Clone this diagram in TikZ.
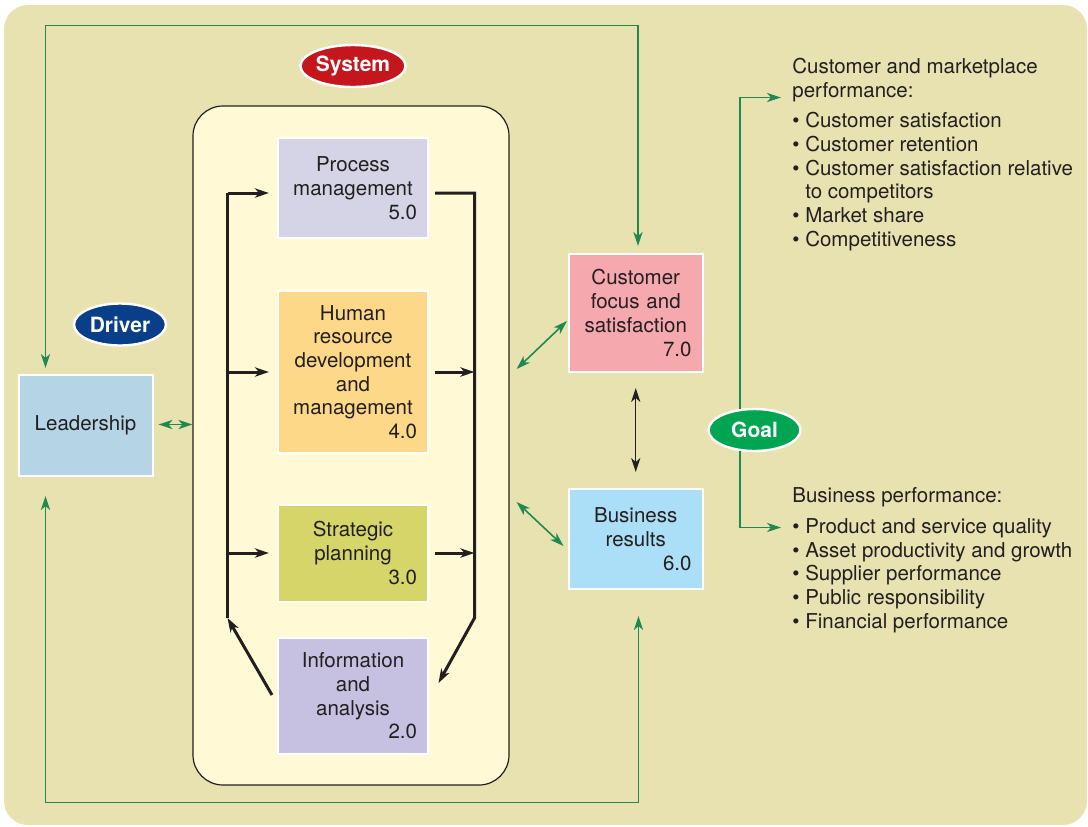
\documentclass[tikz,border=0pt]{standalone}
\usepackage{fontspec}
\setmainfont{TeX Gyre Heros}
\usetikzlibrary{arrows.meta,shapes.geometric,calc}

\definecolor{txt}{HTML}{231F20}
\definecolor{bgtan}{HTML}{E8E2B1}
\definecolor{cream}{HTML}{FFF9D5}
\definecolor{procc}{HTML}{D5D3E6}
\definecolor{hrc}{HTML}{FDD888}
\definecolor{stratc}{HTML}{D6D56A}
\definecolor{infoc}{HTML}{C6C1E0}
\definecolor{leadc}{HTML}{B5D5E6}
\definecolor{custc}{HTML}{F5A9AE}
\definecolor{busc}{HTML}{AADFF7}
\definecolor{sysred}{HTML}{C4161C}
\definecolor{drvblue}{HTML}{083F88}
\definecolor{goalgrn}{HTML}{00A551}
\definecolor{grn}{HTML}{1E8A50}

\begin{document}
\begin{tikzpicture}[x=0.5pt, y=-0.5pt, font=\fontsize{10.25}{11.85}\selectfont,
  >={Stealth[length=7pt, width=4.6pt, inset=2pt]},
  stage/.style={draw=white, line width=1pt, text=txt, inner sep=0pt, align=center},
  badge/.style={ellipse, draw=white, line width=1.2pt, text=white, inner sep=0pt,
    minimum width=46pt, minimum height=21pt, font=\fontsize{10.5}{12}\selectfont\bfseries},
  note/.style={anchor=north west, align=left, inner sep=0pt, text=txt},
  kline/.style={draw=txt, line width=1.5pt, line join=miter},
  gline/.style={draw=grn, line width=0.8pt, line join=miter}]

  \useasboundingbox (0,0) rectangle (1088,826);
  \fill[white] (0,0) rectangle (1088,826);
  \fill[bgtan, rounded corners=12pt] (4,5) rectangle (1087,825);

  % System frame
  \node[draw=txt, fill=cream, line width=0.6pt, rounded corners=15pt, inner sep=0pt,
    minimum width=158pt, minimum height=339.5pt] (sys) at (351,445.5) {};

  % Boxes
  \node[stage, fill=procc, minimum width=75pt, minimum height=50pt, text width=64pt] (proc) at (353,188)
    {Process\\management\\\hspace*{\fill}5.0};
  \node[stage, fill=hrc, minimum width=75pt, minimum height=81pt, text width=64pt] (hr) at (353,372)
    {Human\\resource\\development\\and\\management\\\hspace*{\fill}4.0};
  \node[stage, fill=stratc, minimum width=75pt, minimum height=48.5pt, text width=64pt] (strat) at (353,553)
    {Strategic\\planning\\\hspace*{\fill}3.0};
  \node[stage, fill=infoc, minimum width=75pt, minimum height=58pt, text width=64pt] (info) at (353,696)
    {Information\\and\\analysis\\\hspace*{\fill}2.0};
  \node[stage, fill=leadc, minimum width=67pt, minimum height=50.5pt] (lead) at (85.5,425.5) {Leadership};
  \node[stage, fill=custc, minimum width=66.75pt, minimum height=59pt, text width=55.75pt] (cust) at (635.75,313)
    {Customer\\focus and\\satisfaction\\\hspace*{\fill}7.0};
  \node[stage, fill=busc, minimum width=66.75pt, minimum height=50pt, text width=55.75pt] (bus) at (635.75,539)
    {Business\\results\\\hspace*{\fill}6.0};

  % Badges
  \node[badge, fill=sysred] (system) at (353,66) {System};
  \node[badge, fill=drvblue] (driver) at (120,324.5) {Driver};
  \node[badge, fill=goalgrn] (goal) at (754.5,430) {Goal};

  % Loop corners
  \coordinate (LT) at (227.5,193);
  \coordinate (LB) at (227.5,618);
  \coordinate (RT) at (474.5,193);
  \coordinate (RB) at (474.5,618);
  \coordinate (IL) at (272,695);
  \coordinate (IR) at (438.5,683);

  % Black flow inside the system
  \draw[kline] (LB) -- (LT);
  \draw[kline, ->] (LT) -- ($(LT -| proc.west)+(-8,0)$);
  \draw[kline, ->] (hr.west -| LT) -- ($(hr.west)+(-8,0)$);
  \draw[kline, ->] (strat.west -| LT) -- ($(strat.west)+(-8,0)$);
  \draw[kline, ->] ($(hr.east)+(6,0)$) -- (hr.east -| RT);
  \draw[kline, ->] ($(strat.east)+(6,0)$) -- (strat.east -| RT);
  \draw[kline, ->] ($(RT -| proc.east)+(6,0)$) -- (RT) -- (RB) -- (IR);
  \draw[kline, ->] (IL) -- (LB);

  % Right side texts
  \node[note] (cmhead) at (792,58) {Customer and marketplace\\performance:};
  \node[note] (cmlist) at (792,112) {• Customer satisfaction\\• Customer retention\\• Customer satisfaction relative\\\phantom{• }to competitors\\• Market share\\• Competitiveness};
  \node[note] (bphead) at (792,487) {Business performance:};
  \node[note] (bplist) at (792,518) {• Product and service quality\\• Asset productivity and growth\\• Supplier performance\\• Public responsibility\\• Financial performance};

  % Green loops
  \coordinate (tl) at (45.5,25.5);
  \coordinate (tr) at (638,25.5);
  \coordinate (bl) at (45.5,802.5);
  \coordinate (br) at (638.5,802.5);
  \coordinate (gt) at (740,97.5);
  \coordinate (gb) at (740,527.5);

  \draw[gline, <->] ($(lead.north -| tl)+(0,-6)$) -- (tl) -- (tr) -- ($(cust.north -| tr)+(0,-7)$);
  \draw[gline, <->] ($(lead.south -| bl)+(0,19)$) -- (bl) -- (br) -- ($(bus.south -| br)+(0,26)$);
  \draw[gline, <->] ($(lead.east)+(5,-1)$) -- (sys.west |- 0,424.5);
  \draw[gline, <->] ([shift={(7,-76.5)}]sys.east) -- ([shift={(-1,8)}]cust.west);
  \draw[gline, <->] ([shift={(7,56.5)}]sys.east) -- ([shift={(-4.5,7)}]bus.west);
  \draw[draw=txt, line width=0.6pt, <->] ([yshift=-7.5pt]cust.south) -- ([yshift=8pt]bus.north);

  % Goal links
  \draw[gline, ->] (goal.124) -- (goal.124 |- gt) -- ($(gt -| cmhead.west)+(-11,0)$);
  \draw[gline, ->] (goal.236) -- (goal.236 |- gb) -- ($(gb -| bplist.west)+(-11,0)$);

\end{tikzpicture}
\end{document}
